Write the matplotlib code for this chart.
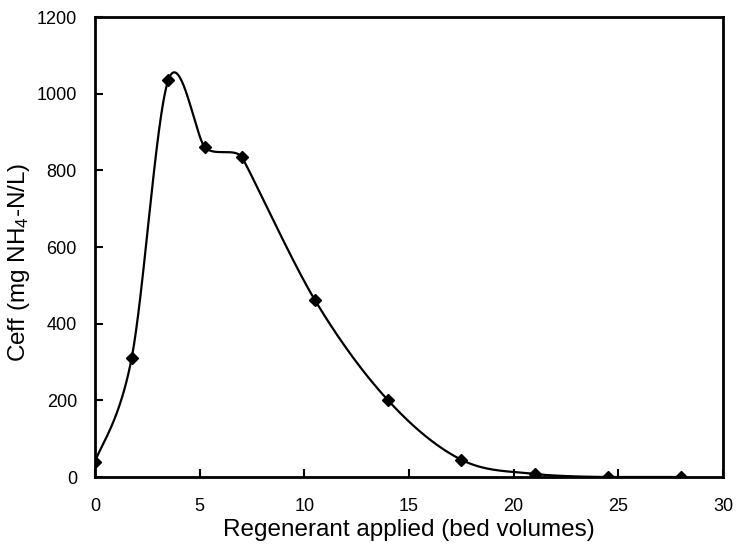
import numpy as np
import matplotlib
matplotlib.use("Agg")
import matplotlib.pyplot as plt

plt.rcParams['font.family'] = ['Liberation Sans', 'DejaVu Sans']
plt.rcParams['mathtext.default'] = 'regular'

bed_volumes = [0, 1.75, 3.5, 5.25, 7, 10.5, 14, 17.5, 21, 24.5, 28]
ceff = [40, 310, 1035, 860, 835, 462, 200, 45, 8, 0, 0]
x_ticks = [0, 5, 10, 15, 20, 25, 30]
y_ticks = [0, 200, 400, 600, 800, 1000, 1200]


def smooth_curve(xs, ys, n=80):
    # Smoothed line: cubic Bezier segments with tangents (P[i+1]-P[i-1])/6;
    # at non-extremum points the tangent is limited so controls stay within
    # the neighbouring segments' value range (overshoot only at extrema).
    P = np.column_stack([xs, ys]).astype(float)
    m = len(P)
    T = np.zeros_like(P)
    for i in range(m):
        a = P[i - 1] if i > 0 else P[i]
        b = P[i + 1] if i < m - 1 else P[i]
        T[i] = (b - a) / 6.0
    for i in range(m):
        y = P[i, 1]
        yl = P[i - 1, 1] if i > 0 else None
        yr = P[i + 1, 1] if i < m - 1 else None
        is_ext = (yl is not None and yr is not None and
                  ((y > yl and y > yr) or (y < yl and y < yr)))
        if is_ext:
            continue
        s = 1.0
        dy = T[i, 1]
        if yr is not None and dy != 0:
            lo, hi = min(y, yr), max(y, yr)
            ny = y + dy
            if ny > hi:
                s = min(s, (hi - y) / dy)
            elif ny < lo:
                s = min(s, (lo - y) / dy)
        if yl is not None and dy != 0:
            lo, hi = min(y, yl), max(y, yl)
            ny = y - dy
            if ny > hi:
                s = min(s, (y - hi) / dy)
            elif ny < lo:
                s = min(s, (y - lo) / dy)
        T[i] *= max(s, 0.0)
    out = []
    for i in range(m - 1):
        p1, p2 = P[i], P[i + 1]
        c1 = p1 + T[i]
        c2 = p2 - T[i + 1]
        t = np.linspace(0, 1, n)[:, None]
        seg = ((1 - t) ** 3) * p1 + 3 * ((1 - t) ** 2) * t * c1 + 3 * (1 - t) * t ** 2 * c2 + t ** 3 * p2
        out.append(seg if i == 0 else seg[1:])
    s = np.vstack(out)
    return s[:, 0], s[:, 1]


fig = plt.figure(figsize=(7.37, 5.48), dpi=100)
ax = fig.add_axes([95 / 737, 1 - 477 / 548, (723 - 95) / 737, (477 - 17) / 548])
ax.set_xlim(0, 30)
ax.set_ylim(0, 1200)

sx, sy = smooth_curve(bed_volumes, ceff)
ax.plot(sx, sy, color='black', lw=1.6, zorder=2)
ax.plot(bed_volumes, ceff, linestyle='none', marker='D', color='black', markersize=6.5, zorder=3)

ax.set_xticks(x_ticks)
ax.set_yticks(y_ticks)
ax.tick_params(direction='in', length=6, width=1.5, labelsize=13, top=False, right=False)
ax.tick_params(axis='x', pad=15)
ax.tick_params(axis='y', pad=13)
for sp in ax.spines.values():
    sp.set_linewidth(2)

ax.set_xlabel('Regenerant applied (bed volumes)', fontsize=17.5, labelpad=3)
ax.set_ylabel('Ceff (mg NH$_4$-N/L)', fontsize=17.5)
ax.yaxis.set_label_coords(-0.100, 0.467)

fig.savefig('out.png', dpi=100)
